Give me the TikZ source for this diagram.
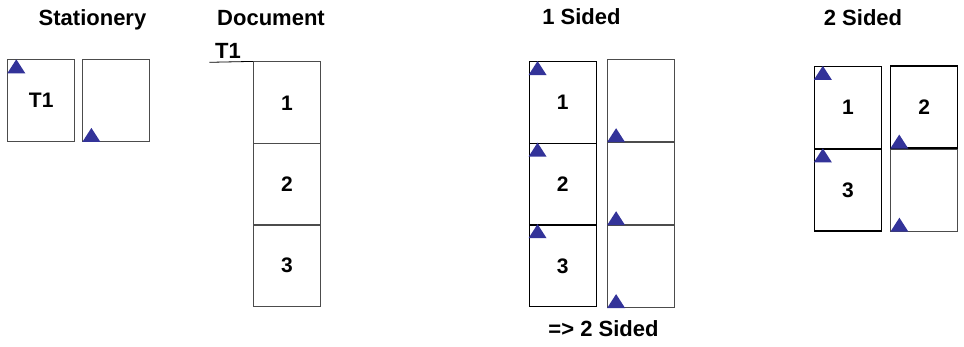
\documentclass[tikz,border=0pt]{standalone}
\usepackage{fontspec}
\setmainfont{Liberation Sans}
\definecolor{markblue}{RGB}{51,51,153}

\begin{document}
\begin{tikzpicture}[x=1pt,y=-1pt,
    page/.style={draw=black!70, line width=0.8pt, minimum width=67pt,
      minimum height=82pt, inner sep=0pt, font=\bfseries\fontsize{21}{25}\selectfont},
    printed/.style={page, draw=black, line width=1.3pt},
    heading/.style={anchor=base, font=\bfseries\fontsize{22}{26}\selectfont}]
  \useasboundingbox (0,0) rectangle (964,346);

  % Headings
  \node[heading] (hstat) at (92.5,25) {Stationery};
  \node[heading] (hdoc) at (271,25) {Document};
  \node[heading] (hone) at (581.5,24) {1 Sided};
  \node[heading] (htwo) at (863,25) {2 Sided};

  % Stationery
  \node[page] (s1) at (41.2,100.7) {T1};
  \node[page] (s2) at (116.3,100.5) {};

  % Document
  \node[page] (d1) at (287,102.8) {1};
  \node[page] (d2) at (287,184.3) {2};
  \node[page] (d3) at (287,265.7) {3};
  \node[heading] (dt1) at (228,58.5) {T1};
  \coordinate (dt1start) at (209.3,62.3);
  \draw[black, line width=0.8pt] (dt1start) -- (d1.north west);

  % 1 Sided
  \node[printed] (a1) at (562.7,102.7) {1};
  \node[printed] (a2) at (562.7,184.3) {2};
  \node[printed] (a3) at (562.7,265.8) {3};
  \node[page] (b1) at (641,100.8) {};
  \node[page] (b2) at (641,183.8) {};
  \node[page] (b3) at (641,266.7) {};
  \node[heading] (hresult) at (603.5,336.5) {=> 2 Sided};

  % 2 Sided
  \node[printed] (c1) at (848,107.5) {1};
  \node[printed] (c3) at (848,190) {3};
  \node[page, draw=black, line width=1.1pt] (c2) at (924.3,107) {2};
  \node[page] (c4) at (924.3,190.3) {};

  % Orientation marks
  \foreach \p in {s1,a1,a2,a3,c1,c3}
    \fill[markblue] (\p.north west) ++(9,0) -- ++(9,14) -- ++(-18,0) -- cycle;
  \foreach \p in {s2,b1,b2,b3,c2,c4}
    \fill[markblue] (\p.south west) -- ++(18,0) -- ++(-9,-14) -- cycle;
\end{tikzpicture}
\end{document}
